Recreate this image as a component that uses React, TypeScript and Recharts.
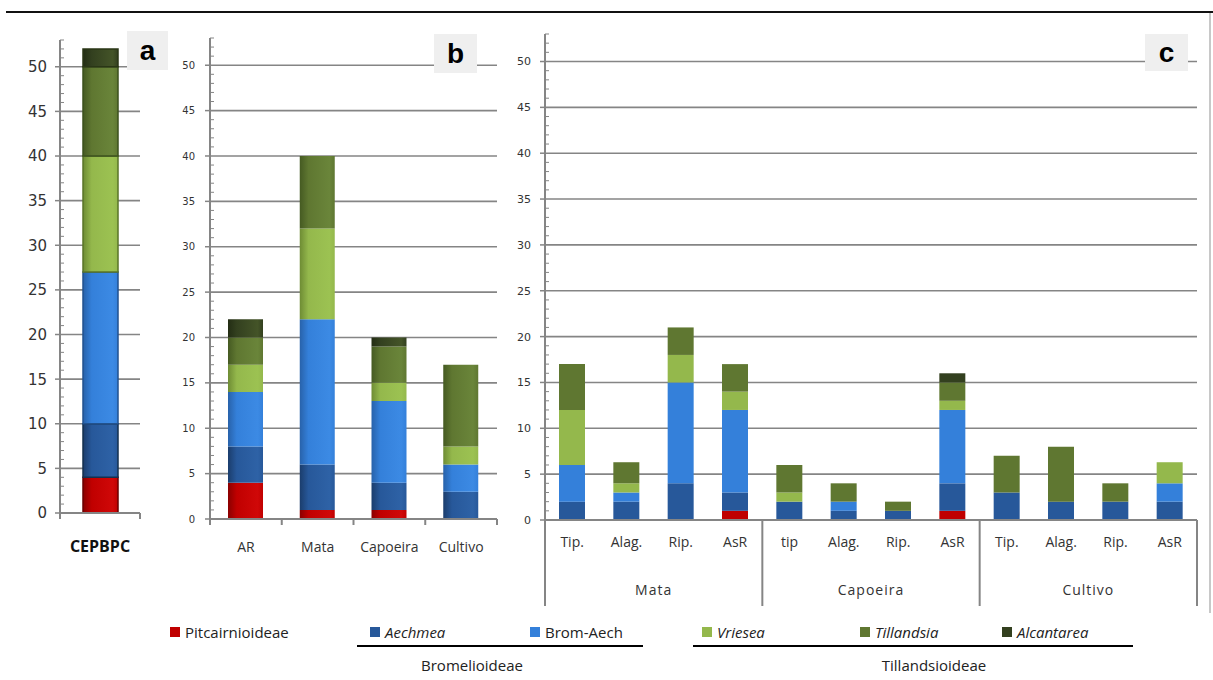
import React from 'react';
import { BarChart, Bar, XAxis, YAxis, CartesianGrid } from 'recharts';

const seriesKeys = ['pit', 'aech', 'brom', 'vrie', 'till', 'alc'];
const seriesNames = ['Pitcairnioideae', 'Aechmea', 'Brom-Aech', 'Vriesea', 'Tillandsia', 'Alcantarea'];
const italicSeries = [false, true, false, true, true, true];
const solidColors = ['#C00000', '#27589A', '#3480DA', '#94B84C', '#5F7731', '#33401F'];
const darkColors = ['#8A0000', '#1B3D6C', '#2862AA', '#6E8C34', '#455A22', '#232D14'];
const lightColors = ['#D00808', '#2E62A6', '#3C8AE4', '#9CC252', '#6A853A', '#445428'];
const strokeA = ['#6A0000', '#15304F', '#22528E', '#5A7628', '#3D521E', '#2A3616'];

// Panel a
const categoriesA = ['CEPBPC'];
const pitA = [4];
const aechA = [6];
const bromA = [17];
const vrieA = [13];
const tillA = [10];
const alcA = [2];

// Panel b
const categoriesB = ['AR', 'Mata', 'Capoeira', 'Cultivo'];
const pitB = [4, 1, 1, 0];
const aechB = [4, 5, 3, 3];
const bromB = [6, 16, 9, 3];
const vrieB = [3, 10, 2, 2];
const tillB = [3, 8, 4, 9];
const alcB = [2, 0, 1, 0];

// Panel c
const groupsC = ['Mata', 'Capoeira', 'Cultivo'];
const categoriesC = ['Tip.', 'Alag.', 'Rip.', 'AsR', 'tip', 'Alag.', 'Rip.', 'AsR', 'Tip.', 'Alag.', 'Rip.', 'AsR'];
const pitC = [0, 0, 0, 1, 0, 0, 0, 1, 0, 0, 0, 0];
const aechC = [2, 2, 4, 2, 2, 1, 1, 3, 3, 2, 2, 2];
const bromC = [4, 1, 11, 9, 0, 1, 0, 8, 0, 0, 0, 2];
const vrieC = [6, 1, 3, 2, 1, 0, 0, 1, 0, 0, 0, 2.3];
const tillC = [5, 2.3, 3, 3, 3, 2, 1, 2, 4, 6, 2, 0];
const alcC = [0, 0, 0, 0, 0, 0, 0, 1, 0, 0, 0, 0];

const yTicks = [0, 5, 10, 15, 20, 25, 30, 35, 40, 45, 50];
const gridValues = [5, 10, 15, 20, 25, 30, 35, 40, 45, 50];
const allTicks = [
  0, 1, 2, 3, 4, 5, 6, 7, 8, 9, 10, 11, 12, 13, 14, 15, 16, 17, 18, 19, 20, 21, 22, 23, 24, 25, 26,
  27, 28, 29, 30, 31, 32, 33, 34, 35, 36, 37, 38, 39, 40, 41, 42, 43, 44, 45, 46, 47, 48, 49, 50, 51, 52, 53,
];
const yDomain: [number, number] = [0, 53];

const build = (cats: string[], cols: number[][]) =>
  cats.map((name, i) => {
    const row: any = { name };
    seriesKeys.forEach((k, j) => {
      row[k] = cols[j][i];
    });
    return row;
  });

const dataA = build(categoriesA, [pitA, aechA, bromA, vrieA, tillA, alcA]);
const dataB = build(categoriesB, [pitB, aechB, bromB, vrieB, tillB, alcB]);
const dataC = build(categoriesC, [pitC, aechC, bromC, vrieC, tillC, alcC]);

const AXIS = '#858585';
const TICKFONT = "'DejaVu Sans', Verdana, sans-serif";
const LABELFONT = "'Open Sans', 'Liberation Sans', sans-serif";

const Gradients = ({ prefix }: { prefix: string }) => (
  <defs>
    {seriesKeys.map((k, i) => (
      <linearGradient key={k} id={`${prefix}-${k}`} x1="0" y1="0" x2="1" y2="0">
        <stop offset="0%" stopColor={darkColors[i]} />
        <stop offset="25%" stopColor={solidColors[i]} />
        <stop offset="85%" stopColor={lightColors[i]} />
        <stop offset="100%" stopColor={solidColors[i]} />
      </linearGradient>
    ))}
  </defs>
);

const yTick = (fontSize: number, gap: number) => (props: any) => {
  const { x, y, payload } = props;
  const v = payload.value;
  const major = yTicks.includes(v);
  if (major) {
    return (
      <g>
        <line x1={x - 5} y1={y} x2={x} y2={y} stroke={AXIS} strokeWidth={1.5} />
        <text x={x - gap} y={y} dy="0.36em" textAnchor="end" fontFamily={TICKFONT} fontSize={fontSize} fill="#333">
          {v}
        </text>
      </g>
    );
  }
  return <line x1={x} y1={y} x2={x + 4} y2={y} stroke={AXIS} strokeWidth={1} />;
};

const simpleTick =
  (labels: string[], bw: number, bold: boolean, fontSize: number, dy: number) =>
  (props: any) => {
    const { x, y, index } = props;
    const n = labels.length;
    return (
      <g>
        <line x1={x - bw / 2} y1={y} x2={x - bw / 2} y2={y + 6} stroke={AXIS} strokeWidth={2} />
        {index === n - 1 && <line x1={x + bw / 2} y1={y} x2={x + bw / 2} y2={y + 6} stroke={AXIS} strokeWidth={2} />}
        <text
          x={x}
          y={y + dy}
          textAnchor="middle"
          fontFamily={LABELFONT}
          fontSize={fontSize}
          fontWeight={bold ? 700 : 400}
          fill={bold ? '#111' : '#333'}
        >
          {labels[index]}
        </text>
      </g>
    );
  };

const groupTick = (labels: string[], groups: string[], bw: number, per: number) => (props: any) => {
  const { x, y, index } = props;
  const n = labels.length;
  return (
    <g>
      {index % per === 0 && <line x1={x - bw / 2} y1={y} x2={x - bw / 2} y2={y + 86} stroke={AXIS} strokeWidth={2} />}
      {index === n - 1 && <line x1={x + bw / 2} y1={y} x2={x + bw / 2} y2={y + 86} stroke={AXIS} strokeWidth={2} />}
      <text x={x} y={y + 27} textAnchor="middle" fontFamily={LABELFONT} fontSize={14} fill="#333">
        {labels[index]}
      </text>
      {index % per === 1 && (
        <text
          x={x + bw / 2}
          y={y + 75}
          textAnchor="middle"
          fontFamily={LABELFONT}
          fontSize={14}
          letterSpacing={1}
          fill="#333"
        >
          {groups[Math.floor(index / per)]}
        </text>
      )}
    </g>
  );
};

const LetterBox = ({ left, top, w, h, letter }: any) => (
  <div
    style={{
      position: 'absolute',
      left,
      top,
      width: w,
      height: h,
      background: '#efefef',
      fontFamily: "'Liberation Sans', Arial, sans-serif",
      fontWeight: 700,
      fontSize: 28,
      lineHeight: `${h}px`,
      textAlign: 'center',
      color: '#000',
    }}
  >
    {letter}
  </div>
);

const renderBars = (prefix: string | null, withStroke: boolean, size: number) =>
  seriesKeys.map((k, i) => (
    <Bar
      key={k}
      dataKey={k}
      name={seriesNames[i]}
      stackId="s"
      barSize={size}
      fill={prefix ? `url(#${prefix}-${k})` : solidColors[i]}
      stroke={withStroke ? strokeA[i] : undefined}
      strokeWidth={withStroke ? 1.5 : 0}
      isAnimationActive={false}
    />
  ));

// geometry
const A = { left: 0, width: 150, height: 560, mTop: 40, mRight: 10, mBottom: 7, yW: 60, xH: 40 };
const B = { left: 150, width: 360, height: 600, mTop: 38, mRight: 13, mBottom: 41, yW: 60, xH: 40 };
const C = { left: 490, width: 723, height: 620, mTop: 34, mRight: 16, mBottom: 10, yW: 55, xH: 90 };
const bw = (g: any, n: number) => (g.width - g.mRight - g.yW) / n;

const legendX = [170, 370, 530, 702, 860, 1002];

const YAx = ({ w, fontSize, gap }: any) => null;

export default function App() {
  const yAxisProps = (w: number, fontSize: number, gap: number) => ({
    width: w,
    domain: yDomain,
    ticks: allTicks,
    type: 'number' as const,
    interval: 0 as const,
    allowDataOverflow: true,
    axisLine: { stroke: AXIS, strokeWidth: 2 },
    tickLine: false,
    tickSize: 0,
    tickMargin: 0,
    tick: yTick(fontSize, gap),
  });
  const xAxisProps = (h: number, tick: any) => ({
    dataKey: 'name',
    height: h,
    axisLine: { stroke: AXIS, strokeWidth: 2 },
    tickLine: false,
    tickSize: 0,
    tickMargin: 0,
    interval: 0 as const,
    tick,
  });
  return (
    <div style={{ position: 'absolute', left: 0, top: 0, width: 1213, height: 680, background: '#fff', overflow: 'hidden' }}>
      <div style={{ position: 'absolute', left: 6, top: 11, width: 1207, height: 2, background: '#111' }} />
      <div style={{ position: 'absolute', left: 1209, top: 13, width: 2, height: 600, background: '#c8c8c8' }} />

      {/* Panel a */}
      <div style={{ position: 'absolute', left: A.left, top: 0 }}>
        <BarChart width={A.width} height={A.height} data={dataA} margin={{ top: A.mTop, right: A.mRight, bottom: A.mBottom, left: 0 }}>
          <Gradients prefix="ga" />
          <CartesianGrid vertical={false} stroke={AXIS} strokeWidth={1.6} horizontalValues={gridValues} />
          <XAxis {...xAxisProps(A.xH, simpleTick(categoriesA, bw(A, 1), true, 16, 39))} />
          <YAxis {...yAxisProps(A.yW, 15, 13)} />
          {renderBars('ga', true, 35)}
        </BarChart>
      </div>

      {/* Panel b */}
      <div style={{ position: 'absolute', left: B.left, top: 0 }}>
        <BarChart width={B.width} height={B.height} data={dataB} margin={{ top: B.mTop, right: B.mRight, bottom: B.mBottom, left: 0 }}>
          <Gradients prefix="gb" />
          <CartesianGrid vertical={false} stroke={AXIS} strokeWidth={1.6} horizontalValues={gridValues} />
          <XAxis {...xAxisProps(B.xH, simpleTick(categoriesB, bw(B, 4), false, 14, 33))} />
          <YAxis {...yAxisProps(B.yW, 10, 15)} />
          {renderBars('gb', false, 35)}
        </BarChart>
      </div>

      {/* Panel c */}
      <div style={{ position: 'absolute', left: C.left, top: 0 }}>
        <BarChart width={C.width} height={C.height} data={dataC} margin={{ top: C.mTop, right: C.mRight, bottom: C.mBottom, left: 0 }}>
          <CartesianGrid vertical={false} stroke={AXIS} strokeWidth={1.6} horizontalValues={gridValues} />
          <XAxis {...xAxisProps(C.xH, groupTick(categoriesC, groupsC, bw(C, 12), 4))} />
          <YAxis {...yAxisProps(C.yW, 11, 14)} />
          {renderBars(null, false, 26)}
        </BarChart>
      </div>

      <LetterBox left={127} top={31} w={41} h={39} letter="a" />
      <LetterBox left={434} top={34} w={43} h={39} letter="b" />
      <LetterBox left={1145} top={34} w={43} h={37} letter="c" />

      {/* Legend */}
      {seriesNames.map((nm, i) => (
        <div
          key={nm}
          style={{
            position: 'absolute',
            left: legendX[i],
            top: 621,
            height: 22,
            display: 'flex',
            alignItems: 'center',
            fontFamily: LABELFONT,
            fontSize: 15,
            fontStyle: italicSeries[i] ? 'italic' : 'normal',
            color: '#222',
            whiteSpace: 'nowrap',
          }}
        >
          <span style={{ display: 'inline-block', width: 10, height: 10, background: solidColors[i], marginRight: 5 }} />
          {nm}
        </div>
      ))}
      <div style={{ position: 'absolute', left: 357, top: 645, width: 286, height: 2, background: '#000' }} />
      <div style={{ position: 'absolute', left: 693, top: 645, width: 440, height: 2, background: '#000' }} />
      <div
        style={{
          position: 'absolute',
          left: 357,
          width: 230,
          top: 655,
          textAlign: 'center',
          fontFamily: LABELFONT,
          fontSize: 15,
          color: '#222',
        }}
      >
        Bromelioideae
      </div>
      <div
        style={{
          position: 'absolute',
          left: 834,
          width: 200,
          top: 655,
          textAlign: 'center',
          fontFamily: LABELFONT,
          fontSize: 15,
          color: '#222',
        }}
      >
        Tillandsioideae
      </div>
    </div>
  );
}
